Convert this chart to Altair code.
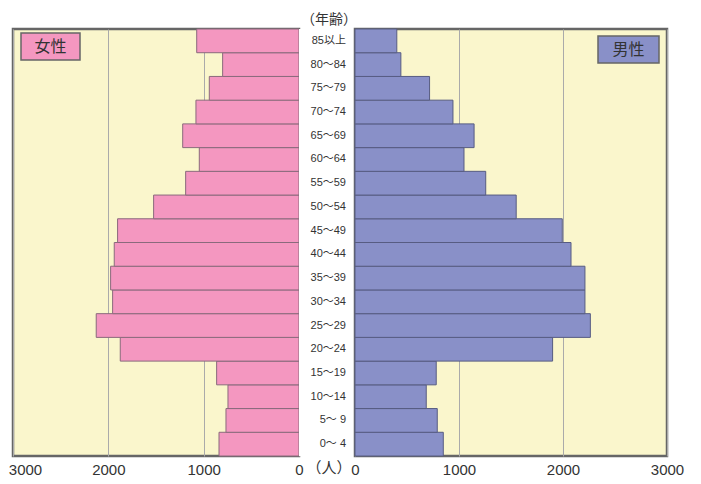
import altair as alt
import pandas as pd

ages = ["0～ 4", "5～ 9", "10～14", "15～19", "20～24", "25～29", "30～34", "35～39",
        "40～44", "45～49", "50～54", "55～59", "60～64", "65～69", "70～74", "75～79",
        "80～84", "85以上"]
female = [839, 766, 745, 864, 1875, 2127, 1955, 1976, 1938, 1903, 1525, 1189, 1046, 1220,
          1081, 941, 801, 1073]
male = [849, 791, 685, 781, 1900, 2263, 2211, 2211, 2077, 1993, 1550, 1257, 1048, 1145,
        942, 717, 441, 402]
tick_values = [0, 1000, 2000, 3000]

df = pd.DataFrame({"age": ages, "female": female, "male": male})
order = list(reversed(ages))

FONT = "Liberation Sans, Noto Sans CJK JP, sans-serif"
JFONT = "Noto Sans CJK JP, sans-serif"
BG = "#FAF6CC"
PINK = "#F497C0"
BLUE = "#8990C8"
FRAME = "#666666"
H = 427

yenc = alt.Y("age:N", sort=order, axis=None,
             scale=alt.Scale(paddingInner=0, paddingOuter=0))


def xaxis(offset=None):
    kw = {}
    if offset is not None:
        kw["labelOffset"] = offset
    return alt.Axis(values=tick_values, title=None, domain=False, ticks=False,
                    grid=True, gridColor="#AAAAAA", gridWidth=1, labelFontSize=15,
                    labelFont=FONT, labelColor="#333333", labelPadding=6,
                    labelFlush=False, labelOverlap=False, format="d", **kw)


one = pd.DataFrame({"k": [0]})

# Left (female)
bars_f = alt.Chart(df).mark_bar(fill=PINK, stroke="#8A6A7C", strokeWidth=1).encode(
    x=alt.X("female:Q", scale=alt.Scale(domain=[0, 3000], reverse=True, nice=False),
            axis=xaxis(alt.condition("datum.value == 3000", alt.value(12), alt.value(0)))),
    y=yenc,
)
leg_f_box = alt.Chart(one).mark_rect(fill=PINK, stroke=FRAME, strokeWidth=1.5).encode(
    x=alt.value(8), x2=alt.value(67), y=alt.value(4), y2=alt.value(31))
leg_f_txt = alt.Chart(one).mark_text(text="女性", font=JFONT, fontSize=16, color="#333333",
                                     align="center", baseline="middle").encode(
    x=alt.value(37.5), y=alt.value(18))
left = alt.layer(bars_f, leg_f_box, leg_f_txt).properties(
    width=286, height=H,
    view=alt.ViewBackground(fill=BG, stroke=FRAME, strokeWidth=2.5))

# Middle (age labels)
mid_lbl = alt.Chart(df).mark_text(align="right", baseline="middle", fontSize=11,
                                  font=FONT, color="#333333").encode(
    y=yenc, text="age:N", x=alt.value(47))
mid_top = alt.Chart(one).mark_text(text="（年齢）", font=JFONT, fontSize=14,
                                   color="#333333", align="center",
                                   baseline="bottom").encode(
    x=alt.value(30), y=alt.value(-2))
mid_bot = alt.Chart(one).mark_text(text="（人）", font=JFONT, fontSize=15,
                                   color="#333333", align="center",
                                   baseline="middle").encode(
    x=alt.value(30), y=alt.value(H + 12))
mid = alt.layer(mid_lbl, mid_top, mid_bot).properties(
    width=56, height=H,
    view=alt.ViewBackground(fill="white", stroke="transparent", strokeWidth=0))

# Right (male)
bars_m = alt.Chart(df).mark_bar(fill=BLUE, stroke="#575C82", strokeWidth=1).encode(
    x=alt.X("male:Q", scale=alt.Scale(domain=[0, 3000], nice=False), axis=xaxis()),
    y=yenc,
)
leg_m_box = alt.Chart(one).mark_rect(fill=BLUE, stroke=FRAME, strokeWidth=1.5).encode(
    x=alt.value(243), x2=alt.value(304), y=alt.value(7), y2=alt.value(34))
leg_m_txt = alt.Chart(one).mark_text(text="男性", font=JFONT, fontSize=16, color="#333333",
                                     align="center", baseline="middle").encode(
    x=alt.value(273.5), y=alt.value(21))
right = alt.layer(bars_m, leg_m_box, leg_m_txt).properties(
    width=312, height=H,
    view=alt.ViewBackground(fill=BG, stroke=FRAME, strokeWidth=2.5))

chart = alt.hconcat(left, mid, right, spacing=0, bounds="flush").properties(
    padding={"left": -1, "top": 5, "right": 0, "bottom": 0},
    background="white",
)

chart.save("out.html", embed_options={"renderer": "svg", "actions": False})
